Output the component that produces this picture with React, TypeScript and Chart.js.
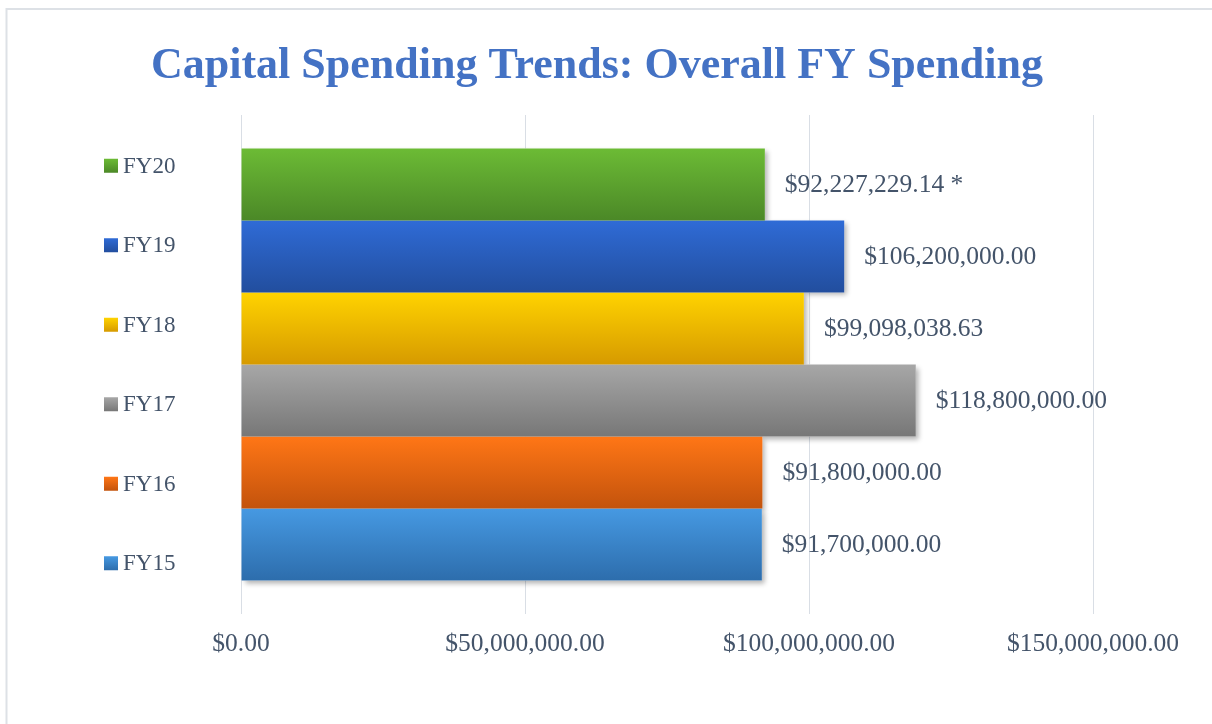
import React, { useEffect, useRef } from 'react';
import { Chart, registerables } from 'chart.js';

Chart.register(...registerables);

const TITLE = 'Capital Spending Trends: Overall FY Spending';
const categories = ['Overall FY Spending'];
const seriesLabels = ['FY20', 'FY19', 'FY18', 'FY17', 'FY16', 'FY15'];
const seriesValues = [92227229.14, 106200000.0, 99098038.63, 118800000.0, 91800000.0, 91700000.0];
const valueNotes = [' *', '', '', '', '', ''];
const tickValues = [0, 50000000, 100000000, 150000000];
const gradientTops = ['#6CBB35', '#2F6BD6', '#FFD300', '#A7A7A7', '#FF7616', '#4699E2'];
const gradientBottoms = ['#4B8827', '#224E9E', '#D69A00', '#777777', '#C3530C', '#2D6DAC'];

const FONT = '"Liberation Serif", "Times New Roman", serif';
const TEXT_COLOR = '#44546A';
const CAT_PCT = 0.866;

const money = (v: number) =>
  '$' + v.toLocaleString('en-US', { minimumFractionDigits: 2, maximumFractionDigits: 2 });

function bandFor(chart: any, i: number) {
  const area = chart.chartArea;
  const band = area.height * CAT_PCT;
  const chunk = band / seriesLabels.length;
  const top = area.top + (area.height - band) / 2 + i * chunk;
  return { top, bottom: top + chunk };
}

const framePlugin = {
  id: 'frame',
  beforeDraw(chart: any) {
    const ctx = chart.ctx;
    ctx.save();
    ctx.fillStyle = '#ffffff';
    ctx.fillRect(0, 0, chart.width, chart.height);
    ctx.strokeStyle = '#DDE1E6';
    ctx.lineWidth = 2;
    ctx.beginPath();
    ctx.moveTo(6.5, chart.height);
    ctx.lineTo(6.5, 9);
    ctx.lineTo(chart.width, 9);
    ctx.stroke();
    ctx.restore();
  },
};

const titlePlugin = {
  id: 'customTitle',
  afterDraw(chart: any) {
    const ctx = chart.ctx;
    ctx.save();
    ctx.font = `bold 44px ${FONT}`;
    ctx.fillStyle = '#4472C4';
    ctx.textAlign = 'center';
    ctx.textBaseline = 'alphabetic';
    ctx.fillText(TITLE, 597, 78);
    ctx.restore();
  },
};

const shadowPlugin = {
  id: 'barShadow',
  beforeDatasetsDraw(chart: any) {
    const ctx = chart.ctx;
    chart.data.datasets.forEach((_: any, di: number) => {
      const meta = chart.getDatasetMeta(di);
      meta.data.forEach((bar: any) => {
        const left = Math.min(bar.base, bar.x);
        const w = Math.abs(bar.x - bar.base);
        const top = bar.y - bar.height / 2;
        ctx.save();
        ctx.shadowColor = 'rgba(0,0,0,0.3)';
        ctx.shadowBlur = 5;
        ctx.shadowOffsetX = 3;
        ctx.shadowOffsetY = 3;
        ctx.fillStyle = '#ffffff';
        ctx.fillRect(left, top, w, bar.height);
        ctx.restore();
      });
    });
  },
};

const labelsPlugin = {
  id: 'valueLabels',
  afterDatasetsDraw(chart: any) {
    const ctx = chart.ctx;
    ctx.save();
    ctx.font = `25.5px ${FONT}`;
    ctx.fillStyle = TEXT_COLOR;
    ctx.textAlign = 'left';
    ctx.textBaseline = 'middle';
    chart.data.datasets.forEach((ds: any, di: number) => {
      const meta = chart.getDatasetMeta(di);
      meta.data.forEach((bar: any, j: number) => {
        const v = ds.data[j] as number;
        ctx.fillText(money(v) + valueNotes[di], bar.x + 20, bar.y + 1);
      });
    });
    ctx.restore();
  },
};

const legendPlugin = {
  id: 'sideLegend',
  afterDraw(chart: any) {
    const ctx = chart.ctx;
    const area = chart.chartArea;
    const mid = (area.top + area.bottom) / 2;
    const step = 79.5;
    ctx.save();
    ctx.font = `23px ${FONT}`;
    ctx.textAlign = 'left';
    ctx.textBaseline = 'middle';
    seriesLabels.forEach((lab, i) => {
      const cy = mid + (i - (seriesLabels.length - 1) / 2) * step;
      const g = ctx.createLinearGradient(0, cy - 7, 0, cy + 7);
      g.addColorStop(0, gradientTops[i]);
      g.addColorStop(1, gradientBottoms[i]);
      ctx.fillStyle = g;
      ctx.fillRect(104, cy - 7, 14, 14);
      ctx.fillStyle = TEXT_COLOR;
      ctx.fillText(lab, 123, cy + 1);
    });
    ctx.restore();
  },
};

export default function App() {
  const ref = useRef<HTMLCanvasElement>(null);

  useEffect(() => {
    const canvas = ref.current;
    if (!canvas) return;
    const chart = new Chart(canvas, {
      type: 'bar',
      data: {
        labels: categories,
        datasets: seriesLabels.map((lab, i) => ({
          label: lab,
          data: [seriesValues[i]],
          borderWidth: 0,
          backgroundColor: (c: any) => {
            const ch = c.chart;
            if (!ch.chartArea) return gradientTops[i];
            const { top, bottom } = bandFor(ch, i);
            const g = ch.ctx.createLinearGradient(0, top, 0, bottom);
            g.addColorStop(0, gradientTops[i]);
            g.addColorStop(1, gradientBottoms[i]);
            return g;
          },
        })),
      },
      options: {
        indexAxis: 'y',
        responsive: false,
        animation: false,
        datasets: {
          bar: { categoryPercentage: CAT_PCT, barPercentage: 1.0 },
        },
        layout: { padding: { top: 115, right: 119, left: 0, bottom: 0 } },
        plugins: {
          legend: { display: false },
          title: { display: false },
          tooltip: { enabled: false },
        },
        scales: {
          x: {
            type: 'linear',
            min: 0,
            max: 150000000,
            afterBuildTicks: (s: any) => {
              s.ticks = tickValues.map((v) => ({ value: v }));
            },
            afterFit: (s: any) => {
              s.height = 110;
            },
            border: { display: false },
            grid: { color: '#D9DEE5', lineWidth: 1, drawTicks: false },
            ticks: {
              padding: 15,
              color: TEXT_COLOR,
              font: { family: FONT, size: 25.5 },
              callback: (v: any) => money(Number(v)),
            },
          },
          y: {
            type: 'category',
            afterFit: (s: any) => {
              s.width = 241;
            },
            border: { display: false },
            grid: { display: false },
            ticks: { display: false },
          },
        },
      },
      plugins: [framePlugin, shadowPlugin, labelsPlugin, legendPlugin, titlePlugin],
    } as any);
    return () => chart.destroy();
  }, []);

  return (
    <div style={{ position: 'fixed', left: 0, top: 0, width: 1212, height: 724, background: '#fff' }}>
      <canvas ref={ref} width={1212} height={724} style={{ display: 'block' }} />
    </div>
  );
}
